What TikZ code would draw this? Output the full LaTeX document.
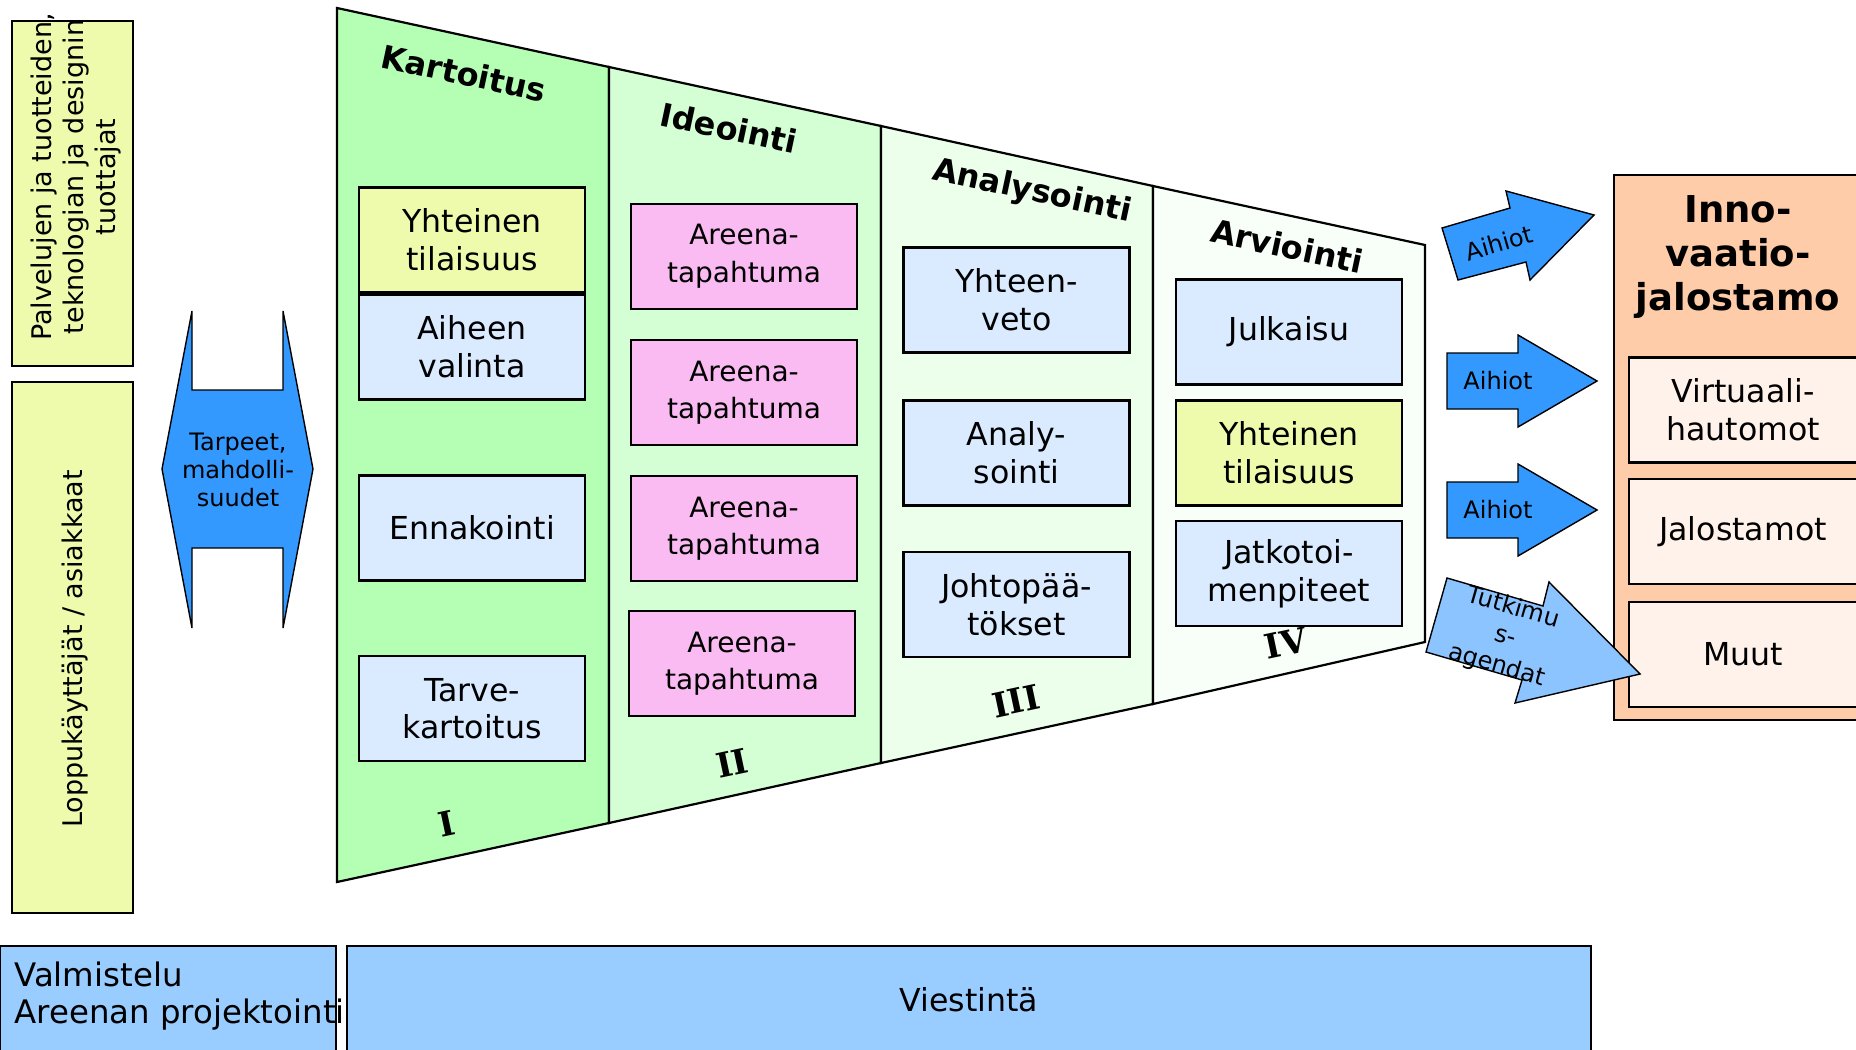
\documentclass[tikz,border=0pt]{standalone}
\usepackage{fontspec}
\setmainfont{DejaVu Sans}
\newfontfamily\numfont{DejaVu Serif}
\usepackage{tikz}
\usetikzlibrary{calc}

\definecolor{paleyellow}{RGB}{239,251,172}
\definecolor{kartgreen}{RGB}{181,255,181}
\definecolor{ideogreen}{RGB}{212,255,212}
\definecolor{analgreen}{RGB}{235,255,235}
\definecolor{arvigreen}{RGB}{248,255,248}
\definecolor{boxblue}{RGB}{218,235,255}
\definecolor{boxpink}{RGB}{249,187,242}
\definecolor{arrowblue}{RGB}{51,153,255}
\definecolor{lightarrow}{RGB}{140,196,255}
\definecolor{barblue}{RGB}{153,204,255}
\definecolor{peach}{RGB}{255,204,170}
\definecolor{lightpeach}{RGB}{255,242,234}

\tikzstyle{stage}=[draw,line width=1.1pt]
\tikzstyle{taskbox}=[rectangle,draw,line width=1.4pt,minimum width=113pt,minimum height=52.5pt,inner sep=0pt,align=center,font=\fontsize{15.8}{18.8}\selectfont]
\tikzstyle{eventbox}=[taskbox,fill=boxpink,font=\fontsize{14}{18.8}\selectfont]
\tikzstyle{stagetitle}=[font=\bfseries\fontsize{16}{19}\selectfont,rotate=-12,inner sep=0pt]
\tikzstyle{numeral}=[font=\numfont\bfseries\fontsize{17}{20}\selectfont,rotate=12,inner sep=0pt]
\tikzstyle{blockarrow}=[draw,line width=0.7pt,fill=arrowblue]
\tikzstyle{arrowtext}=[font=\fontsize{12}{15}\selectfont,inner sep=0pt,align=center]
\tikzstyle{sidebox}=[draw,line width=1.1pt,fill=paleyellow]
\tikzstyle{sidetext}=[rotate=90,align=center,font=\fontsize{13.5}{16}\selectfont,inner sep=0pt]
\tikzstyle{bar}=[draw,line width=1.1pt,fill=barblue]

\begin{document}
\begin{tikzpicture}[x=0.5pt,y=-0.5pt]

    \clip (0,0) rectangle (1856,1049);

% side groups
    \path[sidebox] (12,21) rectangle (133,366);
    \path[sidebox] (12,382) rectangle (133,913);
    \node[sidetext] (producers) at (76,177) {Palvelujen ja tuotteiden,\\teknologian ja designin\\tuottajat};
    \node[sidetext] (users) at (75,649) {Loppukäyttäjät / asiakkaat};

% double arrow
    \path[blockarrow] (162,469) -- (192,311) -- (192,390) -- (283,390) -- (283,311) -- (313,469)
        -- (283,628) -- (283,548) -- (192,548) -- (192,628) -- cycle;
    \node[arrowtext,font=\fontsize{12}{14}\selectfont] (needs) at (238,470) {Tarpeet,\\mahdolli-\\suudet};

% funnel
    \foreach \xa/\ta/\ba/\xb/\tb/\bb/\col in {337/8/882/609/67/823/kartgreen, 609/67/823/881/126/763/ideogreen, 881/126/763/1153/186/704/analgreen, 1153/186/704/1425/245/642/arvigreen}
        \path[stage,fill=\col] (\xa,\ta) -- (\xb,\tb) -- (\xb,\bb) -- (\xa,\ba) -- cycle;

    \foreach \pos/\name/\text in {{(464,73)/kart/Kartoitus}, {(729,128)/ideo/Ideointi}, {(1032,192)/anal/Analysointi}, {(1287,246)/arvi/Arviointi}}
        \node[stagetitle] (\name) at \pos {\text};

    \foreach \pos/\name/\text in {{(447,824)/num1/I}, {(732,763)/num2/II}, {(1016,701)/num3/III}, {(1286,643)/num4/IV}}
        \node[numeral] (\name) at \pos {\text};

% stage boxes
    \foreach \pos/\name/\col/\text in {{(472,240)/shared1/paleyellow/Yhteinen\\tilaisuus}, {(472,347)/topic/boxblue/Aiheen\\valinta}, {(472,528)/foresight/boxblue/Ennakointi}, {(472,708.5)/needsmap/boxblue/Tarve-\\kartoitus},
        {(1016.5,300)/summary/boxblue/Yhteen-\\veto}, {(1016.5,453)/analysis/boxblue/Analy-\\sointi}, {(1016.5,604.5)/conclusions/boxblue/Johtopää-\\tökset},
        {(1289,332)/publish/boxblue/Julkaisu}, {(1289,453)/shared2/paleyellow/Yhteinen\\tilaisuus}, {(1289,573.5)/followup/boxblue/Jatkotoi-\\menpiteet}}
        \node[taskbox,fill=\col] (\name) at \pos {\text};

    \foreach \pos/\name in {{(744,256.5)/event1}, {(744,392.5)/event2}, {(744,528.5)/event3}, {(742,663.5)/event4}}
        \node[eventbox] (\name) at \pos {Areena-\\tapahtuma};

% refinery
    \path[draw,line width=1.1pt,fill=peach] (1614,175) rectangle (1900,720);
    \node[font=\bfseries\fontsize{18.5}{22}\selectfont,align=center,inner sep=0pt] (refinery) at (1738,257) {Inno-\\vaatio-\\jalostamo};
    \foreach \pos/\name/\text in {{(1743,410)/incubators/Virtuaali-\\hautomot}, {(1743,531.5)/refineries/Jalostamot}, {(1743,654.5)/others/Muut}}
        \node[taskbox,fill=lightpeach,minimum width=114pt] (\name) at \pos {\text};

% output arrows
    \path[blockarrow] (1442,228) -- (1510,208) -- (1506,191) -- (1594,215) -- (1530,280) -- (1526,262) -- (1458,280) -- cycle;
    \node[arrowtext,rotate=16] (topics1) at (1499,243) {Aihiot};
    \foreach \yc/\name in {381/topics2, 510/topics3}{
        \path[blockarrow] (1447,\yc-28) -- (1518,\yc-28) -- (1518,\yc-46) -- (1597,\yc) -- (1518,\yc+46) -- (1518,\yc+28) -- (1447,\yc+28) -- cycle;
        \node[arrowtext] (\name) at (1498,\yc) {Aihiot};
    }
    \path[blockarrow,fill=lightarrow] (1447,578) -- (1543,606) -- (1549,582) -- (1640,674) -- (1515,703) -- (1522,680) -- (1426,652) -- cycle;
    \node[arrowtext,rotate=-16] (agendas) at (1505,637) {Tutkimu\\s-\\agendat};

% bottom bars
    \path[bar] (0,946) rectangle (336,1070);
    \path[bar] (347,946) rectangle (1591,1070);
    \node[anchor=west,align=left,inner sep=0pt,font=\fontsize{16.2}{18.8}\selectfont] (prep) at (14,996) {Valmistelu\\Areenan projektointi};
    \node[inner sep=0pt,font=\fontsize{15.8}{18.8}\selectfont] (comms) at (969,1000) {Viestintä};

\end{tikzpicture}
\end{document}
